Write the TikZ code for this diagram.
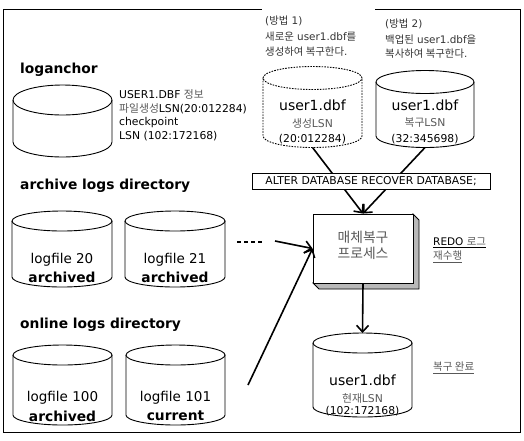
\documentclass[tikz,border=0pt]{standalone}
\usepackage{fontspec}
\setmainfont{DejaVu Sans}
\newfontfamily\kr{Noto Sans CJK KR}
\usetikzlibrary{arrows.meta}
\definecolor{krg}{gray}{0.35}
\newcommand\fsz[1]{\fontsize{#1}{#1}\selectfont}
% #1 cx, #2 top ellipse centre y, #3 bottom ellipse centre y, #4 rx, #5 ry, #6 style, #7 name
\newcommand\cylshape[7]{%
  \draw[#6] (#1-#4,#2) -- (#1-#4,#3) arc[start angle=180,end angle=360,x radius=#4pt,y radius=#5pt] -- (#1+#4,#2);
  \draw[#6] (#1,#2) ellipse[x radius=#4pt,y radius=#5pt];
  \coordinate (#7-top) at (#1,#2-#5);
  \coordinate (#7-bot) at (#1,#3+#5);
}
\begin{document}
\begin{tikzpicture}[x=1pt,y=-1pt,
  t/.style={inner sep=0pt,font=\fsz{10.8}},
  lt/.style={t,anchor=west},
  note/.style={inner sep=0pt,anchor=west,font=\fsz{10.4}},
  head/.style={inner sep=0pt,anchor=west,font=\fsz{13.8}\bfseries},
  big/.style={inner sep=0pt,font=\fsz{14}},
  logt/.style={inner sep=0pt,font=\fsz{13.5}},
  logb/.style={inner sep=0pt,font=\fsz{13.8}\bfseries},
  cyl/.style={draw=black,line width=0.9pt},
  dcyl/.style={draw=black,line width=0.9pt,dash pattern=on 1.6pt off 1.2pt},
  conn/.style={line width=1.6pt,-{Straight Barb[length=6.5pt,width=12pt]}},
]
\useasboundingbox (0,0) rectangle (524,440);
\draw[line width=0.9pt] (3,9) rectangle (520,432);
\fill[white] (262,5) rectangle (375,13);

% loganchor
\node[head] (hlog) at (20,70) {loganchor};
\cylshape{62.5}{100}{142}{49.5}{15}{cyl}{lcyl}
\node[lt] (li1) at (119,94) {USER1.DBF {\kr\color{krg}정보}};
\node[lt] (li2) at (119,109) {{\kr\color{krg}파일생성}LSN(20:012284)};
\node[lt] (li3) at (119,123) {checkpoint};
\node[lt] (li4) at (119,136) {LSN (102:172168)};

% archive logs
\node[head] (harc) at (20,186) {archive logs directory};
\cylshape{62}{221}{277}{50}{10}{cyl}{a1}
\cylshape{175}{221}{277}{50}{10}{cyl}{a2}
\node[logt] (a1t) at (62,260) {logfile 20};
\node[logb] (a1s) at (62,277) {archived};
\node[logt] (a2t) at (175,260) {logfile 21};
\node[logb] (a2s) at (175,277) {archived};

% online logs
\node[head] (honl) at (20,325) {online logs directory};
\cylshape{62.5}{355}{415}{49.5}{10}{cyl}{o1}
\cylshape{175.5}{355}{415}{49.5}{10}{cyl}{o2}
\node[logt] (o1t) at (62.5,398) {logfile 100};
\node[logb] (o1s) at (62.5,416) {archived};
\node[logt] (o2t) at (175.5,398) {logfile 101};
\node[logb] (o2s) at (175.5,416) {current};

% method notes
\node[note,text=black!80] (m1a) at (265,21) {({\kr 방법} 1)};
\node[note,text=black!80] (m1b) at (265,37) {{\kr 새로운} user1.dbf{\kr 를}};
\node[note,text=black!80] (m1c) at (265,52) {{\kr 생성하여 복구한다}.};
\node[note,text=black!80] (m2a) at (385,24) {({\kr 방법} 2)};
\node[note,text=black!80] (m2b) at (385,40) {{\kr 백업된} user1.dbf{\kr 을}};
\node[note,text=black!80] (m2c) at (385,54) {{\kr 복사하여 복구한다}.};

% upper cylinders
\cylshape{312.5}{78}{136}{49.5}{11.5}{dcyl}{dc}
\cylshape{425}{82}{136}{49}{11.5}{cyl}{sc}
\node[big] (dct) at (312.5,105) {user1.dbf};
\node[t,text=krg] (dcl) at (312.5,123) {{\kr 생성}LSN};
\node[t] (dcn) at (312.5,139) {(20:012284)};
\node[big] (sct) at (425,105) {user1.dbf};
\node[t,text=krg] (scl) at (425,123) {{\kr 복구}LSN};
\node[t] (scn) at (425,139) {(32:345698)};

% process box with bevel
\filldraw[fill=gray!55,draw=black,line width=0.8pt]
  (413,214) -- (419,220) -- (419,289) -- (319,289) -- (313,283) -- (413,283) -- cycle;
\node[draw,fill=white,line width=0.9pt,minimum width=100pt,minimum height=69pt,inner sep=0pt] (proc) at (363,248.5) {};
\node[inner sep=0pt,align=center,text=black!65,font=\kr\fontsize{13.8}{15.5}\selectfont] (proct) at (363,245.5) {매체복구\\프로세스};

% bottom cylinder
\cylshape{362.5}{343}{407}{49.5}{10}{cyl}{bc}
\node[big] (bct) at (362.5,380) {user1.dbf};
\node[t,text=krg] (bcl) at (362.5,398) {{\kr 현재}LSN};
\node[t] (bcn) at (362.5,411) {(102:172168)};

% connectors
\draw[conn] (dc-bot) -- (proc.north);
\draw[conn] (sc-bot) -- (proc.north);
\coordinate (d1) at (237,242);
\coordinate (d2) at (262,242);
\draw[line width=1.5pt,dash pattern=on 4pt off 3pt] (d1) -- (d2);
\coordinate (arcin) at (275,241);
\coordinate (onlin) at (248,385);
\draw[conn] (arcin) -- (proc.west);
\draw[conn] (onlin) -- (proc.west);
\draw[conn] (proc.south) -- (bc-top);

\node[draw,fill=white,line width=0.9pt,minimum width=238pt,minimum height=16pt,inner sep=0pt,t] (alter) at (371,181) {ALTER DATABASE RECOVER DATABASE;};

% side notes
\node[note,font=\fsz{10.5}] (redo1) at (433,243) {\underline{REDO {\kr\color{krg}로그}}};
\node[note,font=\fsz{10.5},text=krg] (redo2) at (433,257) {\underline{\kr 재수행}};
\node[note,font=\fsz{10.5},text=krg] (done) at (433,368) {\underline{\kr 복구 완료}};
\end{tikzpicture}
\end{document}
